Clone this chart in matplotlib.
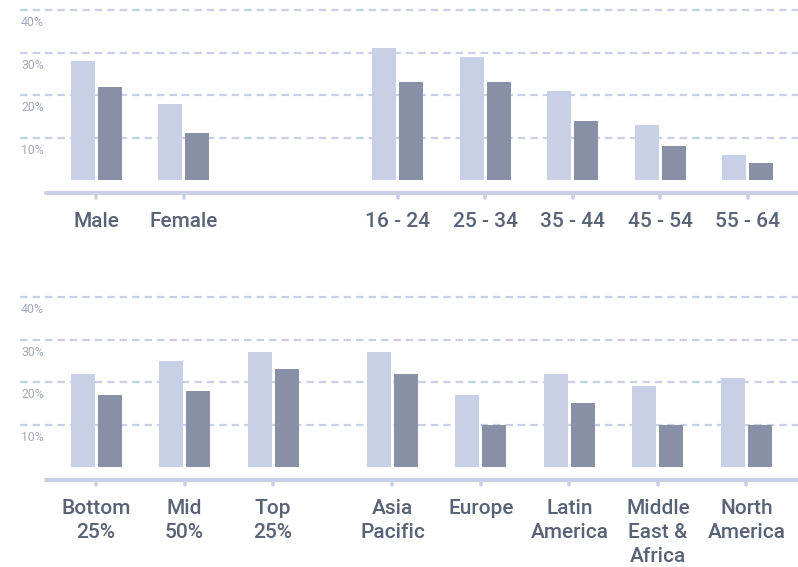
import numpy as np
import matplotlib
matplotlib.use("Agg")
import matplotlib.pyplot as plt

plt.rcParams['font.family'] = ['Roboto', 'DejaVu Sans']

# data: share of respondents (%), light = first series, dark = second series
top_labels = ["Male", "Female", "16 - 24", "25 - 34", "35 - 44", "45 - 54", "55 - 64"]
top_light = [28, 18, 31, 29, 21, 13, 6]
top_dark = [22, 11, 23, 23, 14, 8, 4]

bot_labels = ["Bottom\n25%", "Mid\n50%", "Top\n25%", "Asia\nPacific", "Europe",
              "Latin\nAmerica", "Middle\nEast &\nAfrica", "North\nAmerica"]
bot_light = [22, 25, 27, 27, 17, 22, 19, 21]
bot_dark = [17, 18, 23, 22, 10, 15, 10, 10]

grid_vals = [10, 20, 30, 40]

LIGHT = "#c8d0e8"
DARK = "#8790a7"
GRID = "#c9d0e6"
TXT = "#5a6277"
YTXT = "#a3a9b8"

W, H = 798, 567
fig = plt.figure(figsize=(W / 100, H / 100), dpi=100)


def panel(rect, labels, light, dark, xs, unit, x0px, ylim):
    ax = fig.add_axes(rect)
    ax.set_xlim(-x0px / unit, (W - x0px) / unit)
    ax.set_ylim(*ylim)
    ax.axis("off")
    px = lambda p: (p - x0px) / unit  # figure pixel -> data x
    py = 4.25  # pixels per percent

    for v in grid_vals:
        ax.plot([px(20), px(W)], [v, v], color=GRID, lw=1.6,
                dashes=(3.4, 2.2), clip_on=False)
        ax.text(px(21), v - 3, f"{v}%", color=YTXT, fontsize=8.8,
                ha="left", va="center")

    xs = np.array(xs)
    bw = 24 / unit
    off = 13.5 / unit
    ax.bar(xs - off, light, width=bw, color=LIGHT, zorder=3)
    ax.bar(xs + off, dark, width=bw, color=DARK, zorder=3)

    yline = -13 / py
    ax.plot([px(46), px(W + 10)], [yline, yline], color=GRID, lw=3,
            solid_capstyle="round", clip_on=False)
    for x in xs:
        ax.plot([x, x], [yline, yline - 5 / py], color=GRID, lw=2.6,
                solid_capstyle="round")

    for x, lab in zip(xs, labels):
        ax.text(x, -32 / py, lab, color=TXT, fontsize=15, fontweight="medium",
                ha="center", va="top", linespacing=1.33)
    return ax


# top panel: gender and age groups
top_xs = [0, 1, 3.45, 4.45, 5.45, 6.45, 7.45]
panel([0, (H - 250) / H, 1, 250 / H], top_labels, top_light, top_dark,
      top_xs, 87.5, 96, ((180 - 250) / 4.25, 180 / 4.25))

# bottom panel: income tiers and regions
bot_xs = [0, 1, 2, 3.35, 4.35, 5.35, 6.35, 7.35]
panel([0, 0, 1, 317 / H], bot_labels, bot_light, bot_dark,
      bot_xs, 88.5, 96, ((467 - 567) / 4.25, (467 - 250) / 4.25))

fig.savefig("out.png", dpi=100)
